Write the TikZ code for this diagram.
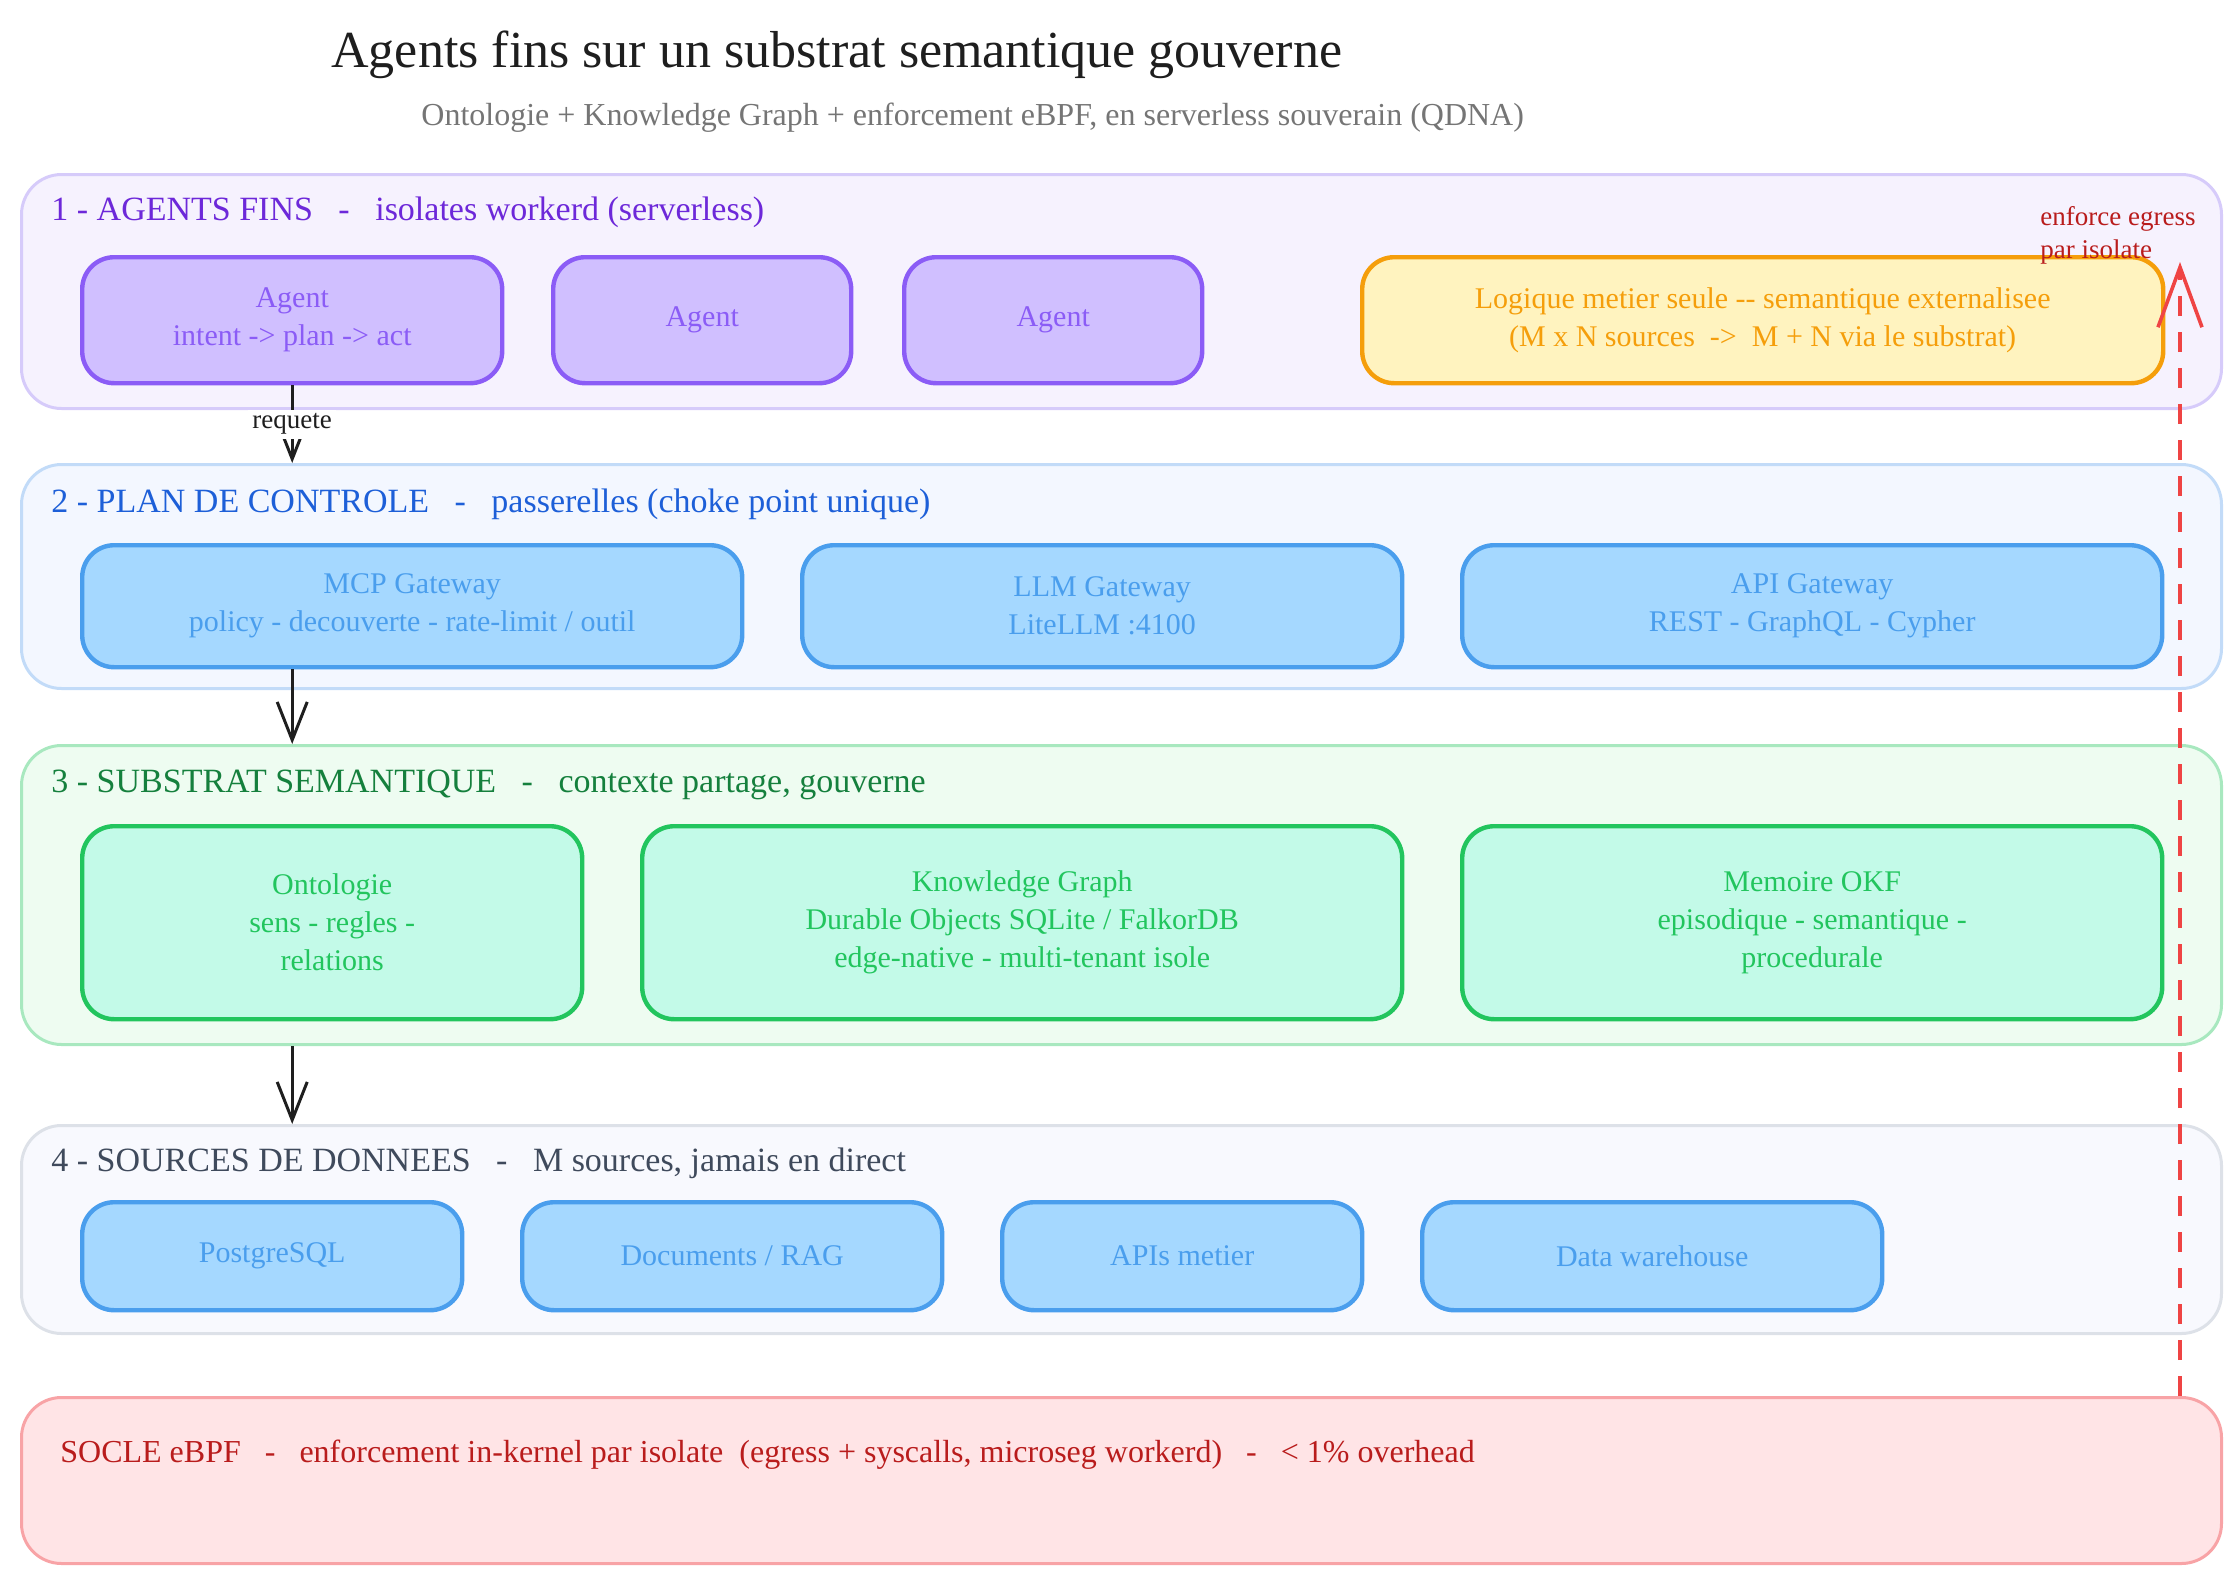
\documentclass[tikz,border=0pt]{standalone}
\usepackage{fontspec}
\setmainfont{Liberation Serif}
\usetikzlibrary{arrows.meta}

\definecolor{titleC}{HTML}{1E1E1E}
\definecolor{subC}{HTML}{757575}
\definecolor{violetF}{HTML}{F6F2FE}
\definecolor{violetB}{HTML}{D6CBFA}
\definecolor{violetT}{HTML}{6D28D9}
\definecolor{violetS}{HTML}{8B5CF6}
\definecolor{violetL}{HTML}{D0BFFF}
\definecolor{amberS}{HTML}{F59E0B}
\definecolor{amberL}{HTML}{FFF3BF}
\definecolor{blueF}{HTML}{F3F7FF}
\definecolor{blueB}{HTML}{C2DBF8}
\definecolor{blueT}{HTML}{1D5FD8}
\definecolor{blueS}{HTML}{4A9EED}
\definecolor{blueL}{HTML}{A5D8FF}
\definecolor{greenF}{HTML}{EEFCF1}
\definecolor{greenB}{HTML}{A8E8BF}
\definecolor{greenT}{HTML}{15803D}
\definecolor{greenS}{HTML}{22C55E}
\definecolor{greenL}{HTML}{C3FAE8}
\definecolor{slateF}{HTML}{F8F9FE}
\definecolor{slateB}{HTML}{DDE1E8}
\definecolor{slateT}{HTML}{3F4A5C}
\definecolor{redF}{HTML}{FFE4E6}
\definecolor{redB}{HTML}{F8A3A6}
\definecolor{redT}{HTML}{B91C1C}
\definecolor{redS}{HTML}{EF4444}

\tikzset{
  layer/.style 2 args={draw=#1, fill=#2, line width=1.5pt, rounded corners=20pt, anchor=north west, inner sep=0pt, minimum width=1100pt},
  box/.style 2 args={draw=#1, fill=#2, text=#1, line width=2.2pt, rounded corners=16pt, anchor=north west, inner sep=0pt, align=center, font=\fontsize{15}{19}\selectfont},
  head/.style={anchor=base west, inner sep=0pt, font=\fontsize{17}{20}\selectfont},
  flow/.style={draw=titleC, line width=1.5pt, -{Straight Barb[length=19pt,width=15pt]}},
  enf/.style={draw=redS, line width=1.8pt, dash pattern=on 10pt off 8pt, -{Straight Barb[length=30pt,width=22pt]}},
  tag/.style={fill=white, inner sep=2pt, text=titleC, font=\fontsize{13.5}{16}\selectfont}
}

\begin{document}
\begin{tikzpicture}[x=0.5pt,y=0.5pt,yscale=-1,xscale=1]
\useasboundingbox (0,0) rectangle (2240,1580);

% Text Node
\node[anchor=base west, inner sep=0pt, text=titleC, font=\fontsize{26}{31}\selectfont] (title) at (331,67) {Agents fins sur un substrat semantique gouverne};
% Text Node
\node[anchor=base west, inner sep=0pt, text=subC, font=\fontsize{16}{19}\selectfont] (subtitle) at (421,125) {Ontologie + Knowledge Graph + enforcement eBPF, en serverless souverain (QDNA)};

%Shape: Rectangle (layers)
\node[layer={violetB}{violetF}, minimum height=117pt] (agents) at (20,173) {};
\node[layer={blueB}{blueF}, minimum height=112pt] (ctrl) at (20,463) {};
\node[layer={greenB}{greenF}, minimum height=149.5pt] (subs) at (20,744) {};
\node[layer={slateB}{slateF}, minimum height=104pt] (srcs) at (20,1124) {};
\node[layer={redB}{redF}, minimum height=83pt] (socle) at (20,1396) {};

% Text Node (layer titles)
\node[head, text=violetT] (agentsT) at (51,220) {1 - AGENTS FINS~~~-~~~isolates workerd (serverless)};
\node[head, text=blueT] (ctrlT) at (51,512) {2 - PLAN DE CONTROLE~~~-~~~passerelles (choke point unique)};
\node[head, text=greenT] (subsT) at (51,792) {3 - SUBSTRAT SEMANTIQUE~~~-~~~contexte partage, gouverne};
\node[head, text=slateT] (srcsT) at (51,1171) {4 - SOURCES DE DONNEES~~~-~~~M sources, jamais en direct};
\node[head, text=redT, font=\fontsize{16}{19}\selectfont] (socleT) at (60,1462) {SOCLE eBPF~~~-~~~enforcement in-kernel par isolate~~(egress + syscalls, microseg workerd)~~~-~~~< 1\% overhead};

%Shape: Rectangle (agents)
\node[box={violetS}{violetL}, minimum width=210pt, minimum height=63pt] (agent1) at (80,255) {Agent\\intent -> plan -> act};
\node[box={violetS}{violetL}, minimum width=149pt, minimum height=63pt] (agent2) at (551,255) {Agent};
\node[box={violetS}{violetL}, minimum width=149pt, minimum height=63pt] (agent3) at (902,255) {Agent};
\node[box={amberS}{amberL}, minimum width=400.5pt, minimum height=63pt] (metier) at (1360,255) {Logique metier seule -{}- semantique externalisee\\(M x N sources~~->~~M + N via le substrat)};

%Shape: Rectangle (gateways)
\node[box={blueS}{blueL}, minimum width=330pt, minimum height=61pt] (mcp) at (80,543) {MCP Gateway\\policy - decouverte - rate-limit / outil};
\node[box={blueS}{blueL}, minimum width=300pt, minimum height=61pt] (llm) at (800,543) {LLM Gateway\\LiteLLM :4100};
\node[box={blueS}{blueL}, minimum width=350pt, minimum height=61pt] (api) at (1460,543) {API Gateway\\REST - GraphQL - Cypher};

%Shape: Rectangle (substrat)
\node[box={greenS}{greenL}, minimum width=250pt, minimum height=96.5pt] (onto) at (80,824) {Ontologie\\sens - regles -\\relations};
\node[box={greenS}{greenL}, minimum width=380pt, minimum height=96.5pt] (kg) at (640,824) {Knowledge Graph\\Durable Objects SQLite / FalkorDB\\edge-native - multi-tenant isole};
\node[box={greenS}{greenL}, minimum width=350pt, minimum height=96.5pt] (mem) at (1460,824) {Memoire OKF\\episodique - semantique -\\procedurale};

%Shape: Rectangle (sources)
\node[box={blueS}{blueL}, minimum width=190pt, minimum height=54pt] (pg) at (80,1200) {PostgreSQL};
\node[box={blueS}{blueL}, minimum width=210pt, minimum height=54pt] (docs) at (520,1200) {Documents / RAG};
\node[box={blueS}{blueL}, minimum width=180pt, minimum height=54pt] (apis) at (1000,1200) {APIs metier};
\node[box={blueS}{blueL}, minimum width=230pt, minimum height=54pt] (dwh) at (1420,1200) {Data warehouse};

%Straight Lines
\draw[flow] (agent1.south) -- node[tag] (req) {requete} (agent1.south |- ctrl.north);
\draw[flow] (agent1.south |- mcp.south) -- (agent1.south |- subs.north);
\draw[flow] (agent1.south |- subs.south) -- (agent1.south |- srcs.north);

%Straight Lines (egress)
\coordinate (egress) at (2180,262);
\draw[enf] (socle.north -| egress) -- (egress);
% Text Node
\node[anchor=north west, inner sep=0pt, align=left, text=redT, font=\fontsize{13.5}{16.5}\selectfont] (egressT) at (2040,206) {enforce egress\\par isolate};

\end{tikzpicture}
\end{document}
